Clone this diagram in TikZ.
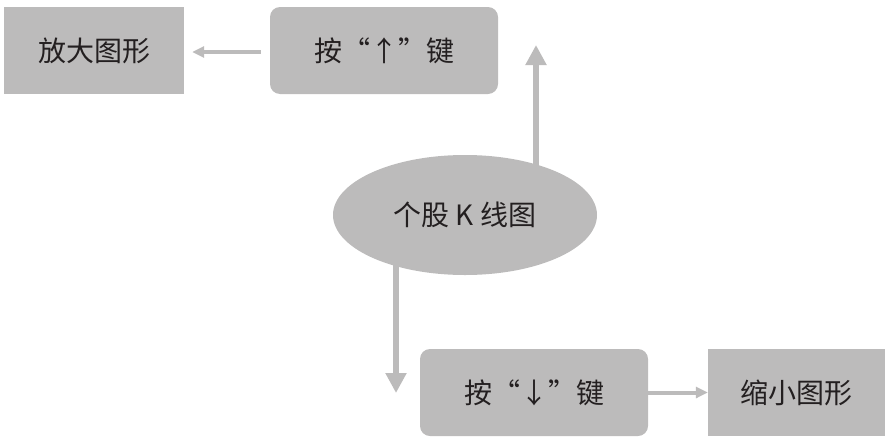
\documentclass[tikz,border=0pt]{standalone}
\usepackage{fontspec}
\usepackage{xcolor}
\usepackage{tikz}
\usetikzlibrary{shapes.geometric, arrows.meta, positioning}
\newfontfamily\cjk{Noto Sans CJK SC}
\definecolor{panel}{HTML}{BCBBBB}
\definecolor{ink}{HTML}{231F20}
\tikzset{
  box/.style      = {rectangle, fill=panel, text=ink, minimum height=87pt,
                     inner sep=0pt, font=\cjk\fontsize{28}{32}\selectfont},
  boxround/.style = {box, rounded corners=10pt},
  oval/.style     = {box, ellipse, minimum width=264pt, minimum height=120pt},
  thin/.style     = {-{Triangle[length=12pt, width=11pt]}, draw=panel, line width=4pt},
  thick/.style    = {-{Triangle[length=20pt, width=20pt]}, draw=panel, line width=6pt},
}

\begin{document}
\begin{tikzpicture}[x=1pt, y=-1pt]
  \useasboundingbox (0,0) rectangle (890,442);

  \node[box, minimum width=180pt] (bigger) at (94,50.5) {放大图形};
  \node[boxround, minimum width=228pt] (upkey) at (384,50.5) {按“↑”键};
  \node[oval] (kline) at (465,215) {个股 K 线图};
  \node[boxround, minimum width=228pt] (downkey) at (534,392.5) {按“↓”键};
  \node[box, minimum width=177pt] (smaller) at (796.5,392.5) {缩小图形};

  \coordinate (uptip) at (536,45);
  \coordinate (downtip) at (396,393);

  \draw[thin, shorten <=9pt, shorten >=8pt] ([yshift=-1.5pt]upkey.west) -- ([yshift=-1.5pt]bigger.east);
  \draw[thick] ([yshift=-12pt]kline.north -| uptip) -- (uptip);
  \draw[thick] ([yshift=12pt]kline.south -| downtip) -- (downtip);
  \draw[thin] (downkey.east) -- (smaller.west);
\end{tikzpicture}
\end{document}
